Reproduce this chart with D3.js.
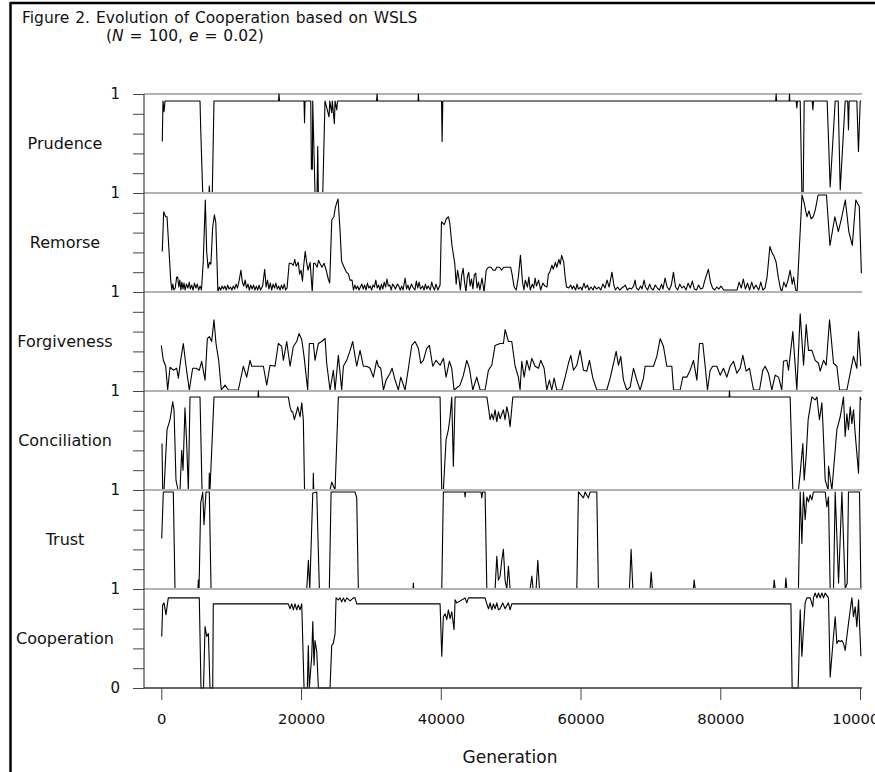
<!DOCTYPE html>
<html>
<head>
<meta charset="utf-8">
<script src="https://cdn.jsdelivr.net/npm/d3@7"></script>
<style>
  body { margin: 0; background: #fff; }
  text { font-family: "DejaVu Sans", sans-serif; fill: #111; }
</style>
</head>
<body>
<div id="chart"></div>
<script>
const width = 875, height = 772;

// panel names, top to bottom
const panels = ["Prudence", "Remorse", "Forgiveness", "Conciliation", "Trust", "Cooperation"];

// [generation, value]
const prudence = [[140,.52],[240,.93],[390,.82],[530,.93],[5540,.93],[5640,.65],[5930,0],[6830,0],[6870,.07],[6930,0],[7300,0],[7540,.93],
  [16780,.93],[16850,1],[16920,.93],[20430,.93],[20500,.71],[20570,.93],[21390,.93],[21480,.24],[21620,.24],[21670,.93],[22000,0],[22290,0],
  [22390,.47],[22480,0],[23110,0],[23430,.93],[24010,.77],[24110,.93],[24390,.81],[24480,.93],[24770,.70],[24870,.93],[25110,.84],[25220,.93],
  [30810,.93],[30880,1],[30950,.93],[36750,.93],[36790,1],[36860,.93],[40110,.93],[40190,.52],[40290,.93],[87930,.93],[88000,1],[88070,.93],
  [89860,.93],[89910,1],[89960,.93],[90860,.93],[90960,.86],[91050,.93],[91440,.93],[91680,0],[91870,0],[92010,.93],[93160,.93],[93260,.84],
  [93340,.93],[95300,.93],[95730,.06],[96450,.93],[96880,.93],[97170,.03],[97880,.93],[98240,.93],[98350,.64],[98450,.93],[99550,.93],
  [99780,.42],[100030,.93],[100170,.93]];

const remorse = [[140,.41],[340,.81],[630,.76],[820,.76],[1350,.12],[1500,.02],[1650,.08],[1800,.02],[2000,.04],[2200,.15],[2350,.15],[2500,.05],
  [2650,.12],[2800,.02],[2950,.10],[3100,.03],[3250,.09],[3400,.02],[3600,.08],[3800,.04],[4000,.10],[4150,.03],[4350,.07],[4550,.02],[4750,.09],
  [4950,.04],[5150,.08],[5350,.02],[5550,.06],[5750,.02],[6000,.30],[6300,.93],[6500,.40],[6700,.24],[6900,.30],[7100,.28],[7350,.65],[7600,.78],
  [7800,.70],[8100,0],[8300,.05],[8500,.02],[8700,.06],[8900,.03],[9100,.06],[9300,.02],[9500,.07],[9700,.03],[9900,.05],[10100,.02],[10300,.06],
  [10500,.03],[10700,.08],[10900,.04],[11100,.10],[11400,.22],[11600,.10],[11800,.06],[12000,.12],[12200,.04],[12400,.08],[12600,.02],[12800,.07],
  [13000,.03],[13200,.07],[13400,.02],[13600,.06],[13800,.02],[14000,.07],[14200,.02],[14500,.06],[14800,.23],[15000,.05],[15200,.12],[15400,.03],
  [15600,.09],[15800,.02],[16000,.08],[16200,.04],[16400,.09],[16600,.03],[16800,.06],[17000,.02],[17200,.07],[17400,.03],[17600,.08],[17800,.02],
  [18000,.04],[18300,.29],[18600,.29],[18900,.27],[19100,.33],[19300,.26],[19600,.30],[19800,.18],[20000,.22],[20200,.11],[20400,.28],[20600,.41],
  [20800,.30],[21000,.22],[21300,.30],[21600,0],[21800,.29],[22000,.29],[22300,.25],[22500,.32],[22700,.29],[23000,.25],[23300,.29],[23600,.22],
  [23900,.13],[24100,.09],[24400,.73],[24700,.76],[24900,.85],[25100,.90],[25300,.94],[25600,.60],[25800,.31],[26100,.26],[26500,.20],[26800,.18],
  [27000,.12],[27300,.12],[27500,.02],[27700,.07],[27900,.03],[28100,.06],[28300,.02],[28500,.05],[28700,.08],[28900,.03],[29100,.07],[29300,.02],
  [29500,.09],[29700,.04],[29900,.06],[30100,.02],[30300,.07],[30500,.05],[30700,.12],[30900,.04],[31100,.07],[31300,.02],[31500,.08],[31700,.03],
  [31900,.10],[32100,.05],[32300,.13],[32500,.06],[32700,.07],[32900,.02],[33100,.08],[33300,.06],[33500,.03],[33800,.08],[34000,.06],[34200,.02],
  [34400,.06],[34600,.02],[34900,.14],[35100,.03],[35300,.07],[35500,.02],[35800,.08],[36000,.05],[36300,.02],[36500,.11],[36700,.04],[36900,.10],
  [37100,.03],[37400,.06],[37600,.02],[37800,.08],[38000,.03],[38200,.06],[38500,.02],[38700,.10],[38900,.05],[39100,.02],[39300,.08],[39600,.02],
  [39900,.07],[40100,.71],[40500,.68],[40800,.74],[41100,.76],[41300,.69],[41600,.47],[42000,.29],[42200,.08],[42400,.22],[42600,.14],[42800,.02],
  [43000,.17],[43200,.24],[43400,.10],[43600,0],[43800,.15],[44000,.20],[44200,.06],[44400,.13],[44600,.03],[44800,.17],[45000,.19],[45200,.04],
  [45400,.10],[45600,.02],[45900,.14],[46200,0],[46500,.22],[46800,.25],[47200,.25],[47500,.22],[47800,.22],[48000,.25],[48400,.25],[48700,.22],
  [49000,.25],[49500,.25],[50000,.25],[50200,.18],[50500,.05],[50800,.02],[51100,.15],[51400,.37],[51700,.10],[51900,.02],[52100,.12],[52400,.05],
  [52600,.15],[52800,.02],[53100,.08],[53300,.04],[53500,.14],[53700,.06],[54000,.12],[54300,.02],[54600,.09],[54900,.06],[55200,.05],[55400,.18],
  [55600,.20],[55900,.27],[56100,.23],[56400,.30],[56600,.25],[56900,.33],[57100,.28],[57300,.37],[57600,.30],[57800,.15],[58000,.05],[58300,.04],
  [58600,.07],[58800,.03],[59000,.06],[59300,.02],[59500,.08],[59700,.03],[60000,.05],[60200,.02],[60500,.09],[60700,.04],[61000,.07],[61200,.02],
  [61500,.05],[61800,.02],[62000,.06],[62300,.03],[62600,.05],[62900,.02],[63200,.08],[63500,.04],[63800,.12],[64100,.05],[64500,.20],[64800,.06],
  [65000,.02],[65300,.05],[65600,.02],[65900,.04],[66100,.05],[66400,.07],[66700,.02],[67000,.04],[67300,.03],[67600,.06],[67800,.12],[68000,.04],
  [68300,.02],[68600,.06],[68800,.03],[69100,.12],[69300,.05],[69600,.02],[69900,.08],[70100,.04],[70400,.02],[70700,.07],[71000,.04],[71300,.02],
  [71600,.08],[71800,.03],[72100,.14],[72400,.05],[72700,.02],[73000,.07],[73300,.20],[73600,.05],[73900,.02],[74200,.08],[74500,.04],[74800,.06],
  [75100,.02],[75400,.09],[75700,.04],[76000,.11],[76300,.03],[76600,.02],[76900,.07],[77200,.03],[77500,.04],[77800,.12],[78300,.23],[78600,.10],
  [78900,.04],[79200,.02],[79500,.05],[79800,.03],[80100,.06],[80500,.02],[81000,.02],[81600,.02],[82000,.02],[82400,.02],[82700,.10],[83000,.04],
  [83300,.13],[83600,.03],[83900,.09],[84200,.02],[84500,.10],[84800,.03],[85100,.07],[85500,.02],[85800,.10],[86100,.02],[86400,.04],[86700,.15],
  [87100,.46],[87400,.40],[87700,.36],[88000,.30],[88300,.15],[88600,.04],[88800,0],[89100,.10],[89400,.05],[89700,.12],[90000,.22],[90300,.08],
  [90500,.15],[90800,.02],[91000,0],[91700,.98],[92000,.90],[92400,.76],[92700,.82],[93000,.74],[93300,.76],[93600,.83],[94000,.98],[94500,.98],
  [95200,.98],[95700,.47],[96400,.76],[96900,.61],[97400,.76],[97900,.93],[98400,.61],[98900,.47],[99400,.93],[99900,.86],[100200,.19]];

const forgiveness = [[0,.46],[290,.31],[630,.25],[910,.01],[1250,.24],[1720,.21],[2200,.23],[2440,.13],[2770,.31],[3150,.48],[3540,.25],[4010,.01],
  [4490,.23],[4970,.23],[5440,.21],[5780,.30],[6260,.11],[6590,.53],[6880,.55],[7210,.50],[7540,.72],[7830,.48],[8210,.31],[8590,.01],[9120,.06],
  [9600,.01],[11030,.01],[11740,.25],[12220,.14],[12700,.31],[12940,.25],[14610,.25],[15090,.06],[15560,.26],[16280,.25],[16750,.48],[17230,.45],
  [17470,.31],[17950,.50],[18430,.25],[18900,.45],[19380,.50],[19710,.58],[20100,.52],[20430,.35],[20950,.01],[21190,.48],[21770,.48],[22000,.31],
  [22480,.48],[22960,.50],[23440,.53],[23670,.28],[24150,.01],[24630,.21],[24870,.01],[25340,.36],[25820,.01],[26060,.25],[26540,.31],[27020,.41],
  [27400,.50],[27730,.35],[27970,.25],[28450,.41],[28920,.25],[29400,.25],[29880,.23],[30350,.14],[30830,.31],[31070,.25],[31410,.23],[31790,.01],
  [32170,.11],[32740,.18],[33030,.23],[33460,.11],[33930,.01],[34270,.14],[34890,.01],[35370,.23],[35840,.46],[36320,.50],[36800,.43],[37130,.28],
  [37510,.31],[37990,.43],[38370,.46],[38850,.25],[39330,.31],[39900,.26],[40380,.33],[40760,.14],[41230,.30],[41570,.23],[41900,.01],[42760,.06],
  [43240,.16],[43720,.31],[44100,.23],[44580,.01],[45150,.14],[45630,.01],[46340,.01],[46820,.21],[47300,.26],[47770,.46],[48490,.48],[48970,.48],
  [49210,.62],[49680,.50],[50160,.50],[50640,.25],[51110,.14],[51350,.01],[51590,.30],[51930,.14],[52310,.31],[52690,.21],[53020,.33],[53500,.25],
  [53980,.23],[54310,.31],[54790,.23],[55170,.01],[55550,.11],[55890,.01],[56220,.13],[56600,.01],[57320,.01],[57800,.14],[58270,.28],[58610,.36],
  [58990,.21],[59470,.26],[59940,.41],[60420,.21],[60900,.20],[61280,.31],[61760,.13],[62330,.01],[63760,.01],[64240,.13],[64720,.28],[65100,.40],
  [65430,.26],[65760,.35],[66150,.11],[66620,.01],[67100,.04],[67580,.23],[68050,.11],[68530,.01],[69010,.13],[69250,.25],[70440,.25],[70920,.35],
  [71400,.53],[71870,.45],[72350,.25],[73070,.25],[73310,.01],[74260,.01],[74640,.14],[75210,.14],[75690,.21],[76170,.31],[76650,.11],[77030,.48],
  [77500,.48],[77840,.25],[78170,.01],[78550,.21],[78930,.25],[79510,.25],[79990,.16],[80460,.23],[80940,.14],[81420,.25],[81900,.30],[82370,.18],
  [82850,.23],[83230,.36],[83710,.20],[84180,.23],[84760,.01],[85620,.01],[86090,.21],[86430,.25],[86900,.18],[87380,.01],[87860,.16],[88340,.14],
  [88810,.01],[89050,.30],[89530,.31],[89770,.21],[90390,.60],[90960,.01],[91440,.78],[91920,.26],[92300,.67],[92630,.41],[93110,.41],[93590,.31],
  [94060,.28],[94300,.20],[94780,.31],[95160,.26],[95640,.72],[96210,.28],[96690,.25],[97070,.01],[98120,.01],[98600,.18],[99070,.35],[99550,.23],
  [99790,.60],[100120,.25]];

const conciliation = [[100,.47],[200,0],[390,0],[820,.61],[1250,.71],[1630,.89],[1820,.81],[2100,.10],[2390,0],[2680,0],[2920,.40],[3110,.20],
  [3390,.83],[3610,.51],[3870,0],[4110,.94],[5540,.94],[5830,0],[6830,0],[6870,.17],[6970,0],[7540,.94],[13840,.94],[13890,1],[13940,.94],
  [18180,.94],[18420,.84],[18640,.79],[18810,.79],[19040,.71],[19280,.77],[19530,.84],[19860,.74],[20100,.88],[20330,.71],[20500,0],[21720,0],
  [21760,.17],[21820,0],[24150,0],[24390,.08],[24870,0],[25340,.94],[39900,.94],[40140,0],[40370,0],[40760,.51],[41090,.61],[41330,.74],
  [41570,.94],[41800,.24],[42050,.94],[46590,.94],[46810,.84],[47060,.71],[47300,.77],[47530,.71],[47770,.81],[48020,.69],[48250,.79],[48490,.72],
  [48960,.81],[49200,.71],[49450,.84],[49680,.77],[49920,.64],[50310,.94],[81270,.94],[81320,1],[81370,.94],[90000,.94],[90390,0],[91190,0],
  [91440,.17],[91820,.47],[92010,.10],[92300,.35],[92580,.71],[93110,.94],[93580,.91],[93830,.94],[94200,.71],[94540,.88],[94690,.67],[95020,.10],
  [95450,0],[95490,.24],[95980,0],[96690,.61],[97170,.74],[97640,.94],[97880,.54],[98120,.77],[98350,.61],[98600,.84],[98840,.67],[99070,.81],
  [99310,.57],[99550,.37],[99790,.17],[100030,.94],[100170,.91]];

const trust = [[60,.51],[290,.98],[1720,.98],[1960,0],[5250,0],[5300,.09],[5400,0],[5640,.87],[5930,.98],[6110,.65],[6400,.98],[6870,.98],[7120,0],
  [20820,0],[21050,.29],[21250,0],[21680,.97],[22250,.98],[22620,0],[24050,0],[24300,.98],[27730,.98],[27970,.92],[28200,0],[36030,0],[36080,.06],
  [36130,0],[40140,0],[40370,.98],[43410,.98],[43480,.93],[43550,.98],[45770,.98],[45870,.92],[45980,.98],[46340,.98],[46590,0],[47770,0],
  [48020,.33],[48250,.09],[48490,.13],[48730,.29],[48960,.40],[49200,.09],[49450,0],[49680,.23],[49920,0],[52790,0],[53030,.13],[53210,0],
  [53640,0],[53890,.29],[54120,0],[59470,0],[59700,.98],[60420,.92],[60660,.98],[61130,.92],[61370,.98],[62330,.98],[62560,0],[67000,0],
  [67240,.40],[67490,0],[69960,0],[70110,.17],[70290,0],[76160,0],[76260,.09],[76410,0],[87620,0],[87720,.09],[87860,0],[89290,0],[89390,.11],
  [89530,0],[91190,0],[91440,.98],[91680,.46],[91910,.98],[92150,.70],[92390,.93],[92630,.88],[92870,.95],[93110,.90],[93340,.98],[95020,.98],
  [95260,.83],[95490,.93],[95730,0],[96210,0],[96450,.98],[96690,.53],[96930,.06],[97410,.98],[97880,0],[98170,.06],[98350,.98],[99930,.98],
  [100130,0]];

const cooperation = [[60,.52],[200,.84],[390,.86],[670,.74],[860,.84],[1000,.91],[5440,.91],[5680,0],[6040,0],[6260,.62],[6500,.52],[6740,.55],
  [6970,0],[7360,0],[7440,.85],[18180,.85],[18420,.80],[18670,.85],[18900,.79],[19140,.85],[19380,.79],[19610,.84],[19860,.79],[20100,.85],
  [20430,0],[20900,0],[21040,.43],[21180,0],[21530,.32],[21680,.67],[21860,.23],[22000,.48],[22250,.37],[22480,0],[24150,0],[24390,.43],
  [24620,.45],[24870,.55],[25010,.91],[25340,.89],[25580,.91],[25820,.87],[26060,.91],[26300,.87],[26540,.91],[27020,.88],[27490,.91],[27730,.91],
  [27970,.85],[39900,.85],[40140,.32],[40370,.72],[40620,.75],[40860,.69],[41090,.79],[41330,.70],[41570,.77],[41900,.59],[42050,.89],[42290,.86],
  [43480,.91],[43720,.86],[43960,.91],[46340,.91],[46590,.85],[46830,.80],[47060,.86],[47300,.79],[47530,.85],[47770,.80],[48020,.86],[48250,.79],
  [48490,.80],[48870,.86],[49200,.80],[49680,.86],[49920,.79],[50160,.85],[90110,.85],[90290,0],[91150,0],[91440,.79],[91680,.32],[91910,.59],
  [92150,.86],[92390,.91],[92870,.91],[93250,.82],[93340,.91],[93580,.96],[93830,.91],[94060,.96],[94300,.91],[94540,.96],[94780,.91],[95020,.96],
  [95490,.91],[95730,.11],[96120,.45],[96450,.72],[96690,.45],[96930,.48],[97170,.47],[97410,.48],[97640,.45],[97880,.38],[98120,.52],[98350,.65],
  [98600,.79],[98840,.91],[99070,.72],[99310,.82],[99550,.62],[99790,.89],[100130,.32]];

const series = [prudence, remorse, forgiveness, conciliation, trust, cooperation];
const xTicks = [0, 20000, 40000, 60000, 80000, 100000];
const yTicks = [0, 0.2, 0.4, 0.6, 0.8, 1];

const panelTop = 94, panelH = 99;
const axisX = 144, lineEnd = 862;

const svg = d3.select("#chart").append("svg")
    .attr("width", width)
    .attr("height", height);

// frame (top and left edges of the scanned box)
svg.append("line").attr("x1", 10).attr("x2", width).attr("y1", 3).attr("y2", 3)
    .attr("stroke", "#000").attr("stroke-width", 2.5);
svg.append("line").attr("x1", 10.5).attr("x2", 10.5).attr("y1", 2).attr("y2", height)
    .attr("stroke", "#000").attr("stroke-width", 2.5);

// title
svg.append("text").attr("x", 22).attr("y", 23)
    .style("font-size", "15.5px")
    .style("word-spacing", "1px")
    .text("Figure 2. Evolution of Cooperation based on WSLS");
const sub = svg.append("text").attr("x", 106).attr("y", 41)
    .style("font-size", "15.5px")
    .style("word-spacing", "1px");
sub.append("tspan").text("(");
sub.append("tspan").style("font-style", "italic").text("N");
sub.append("tspan").text(" = 100, ");
sub.append("tspan").style("font-style", "italic").text("e");
sub.append("tspan").text(" = 0.02)");

const x = d3.scaleLinear().domain([0, 100000]).range([161.3, 860]);

panels.forEach((name, i) => {
    const top = panelTop + i * panelH;
    const y = d3.scaleLinear().domain([0, 1]).range([top + panelH, top]);
    const g = svg.append("g");

    // separator at value 1
    g.append("line")
        .attr("x1", axisX).attr("x2", lineEnd)
        .attr("y1", y(1)).attr("y2", y(1))
        .attr("stroke", "#b3b3b3").attr("stroke-width", 2);

    const ax = g.append("g")
        .attr("transform", `translate(${axisX},0)`)
        .call(d3.axisLeft(y).tickValues(yTicks).tickSize(11).tickPadding(13)
            .tickFormat(d => d === 1 ? "1" : (i === panels.length - 1 && d === 0 ? "0" : "")));
    ax.select(".domain").remove();
    ax.selectAll(".tick line").attr("stroke", "#444");
    ax.selectAll(".tick text").style("font-size", "15px").style("font-family", "DejaVu Sans").attr("fill", "#111");

    g.append("text")
        .attr("x", 65).attr("y", top + panelH / 2)
        .attr("dy", "0.35em")
        .attr("text-anchor", "middle")
        .style("font-size", "16px")
        .text(name);

    g.append("path")
        .datum(series[i])
        .attr("fill", "none")
        .attr("stroke", "#000")
        .attr("stroke-width", 1.1)
        .attr("stroke-linejoin", "round")
        .attr("d", d3.line().x(d => x(d[0])).y(d => y(d[1])));
});

const bottom = panelTop + panels.length * panelH;

// left axis line and bottom base line
svg.append("line").attr("x1", axisX).attr("x2", axisX).attr("y1", panelTop).attr("y2", bottom)
    .attr("stroke", "#444").attr("stroke-width", 1.2);
svg.append("line").attr("x1", axisX).attr("x2", lineEnd).attr("y1", bottom).attr("y2", bottom)
    .attr("stroke", "#333").attr("stroke-width", 1.4);

const xa = svg.append("g")
    .attr("transform", `translate(0,${bottom})`)
    .call(d3.axisBottom(x).tickValues(xTicks).tickSize(12).tickPadding(13).tickFormat(d3.format("d")));
xa.select(".domain").remove();
xa.selectAll(".tick line").attr("stroke", "#444");
xa.selectAll(".tick text").style("font-size", "14.8px").style("font-family", "DejaVu Sans").attr("fill", "#111");

svg.append("text")
    .attr("x", 510).attr("y", 763)
    .attr("text-anchor", "middle")
    .style("font-size", "17px")
    .text("Generation");
</script>
</body>
</html>
